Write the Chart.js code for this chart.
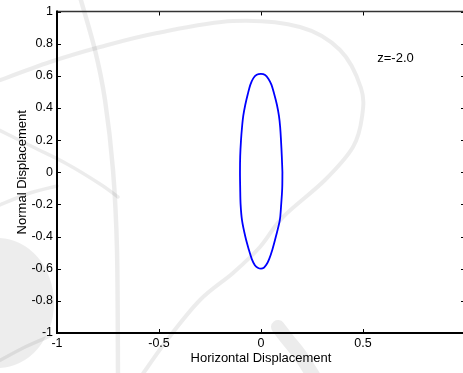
<!DOCTYPE html>
<html>
<head>
<meta charset="utf-8">
<script src="https://cdn.jsdelivr.net/npm/chart.js@4/dist/chart.umd.min.js"></script>
<style>
  html, body { margin: 0; padding: 0; background: #fff; overflow: hidden; }
  #wrap { width: 470px; height: 373px; position: relative; }
</style>
</head>
<body>
<div id="wrap"><canvas id="c"></canvas></div>
<script>
// Axis ticks and their labels
const xTicks = [-1, -0.5, 0, 0.5, 1];
const xTickLabels = ['-1', '-0.5', '0', '0.5', ''];
const yTicks = [-1, -0.8, -0.6, -0.4, -0.2, 0, 0.2, 0.4, 0.6, 0.8, 1];
const yTickLabels = ['-1', '-0.8', '-0.6', '-0.4', '-0.2', '0', '0.2', '0.4', '0.6', '0.8', '1'];

// Closed displacement orbit (horizontal, normal), traced clockwise starting on the right flank
const orbitX = [0.105, 0.104, 0.099, 0.092, 0.073, 0.056, 0.040, 0.026, 0.014, 0.000,
                -0.016, -0.030, -0.045, -0.060, -0.077, -0.093, -0.100, -0.102, -0.103, -0.102, -0.098, -0.093, -0.087, -0.077, -0.064, -0.052, -0.038, -0.021, 0.000,
                0.020, 0.036, 0.051, 0.064, 0.078, 0.088, 0.094, 0.098, 0.102, 0.105];
const orbitY = [0.000, -0.100, -0.200, -0.300, -0.400, -0.480, -0.540, -0.576, -0.594, -0.600,
                -0.594, -0.578, -0.540, -0.480, -0.400, -0.300, -0.200, -0.100, 0.000, 0.100, 0.200, 0.280, 0.350, 0.420, 0.490, 0.545, 0.584, 0.606, 0.612,
                0.605, 0.582, 0.545, 0.490, 0.420, 0.350, 0.280, 0.200, 0.100, 0.000];

// Text placed inside the axes (data coordinates)
const noteText = 'z=-2.0';
const noteX = 0.57;
const noteY = 0.71;

const FONT = "'Liberation Sans', Arial, Helvetica, sans-serif";

// Faint logo drawn behind the axes
function smoothPath(ctx, pts) {
  ctx.moveTo(pts[0][0], pts[0][1]);
  for (let i = 0; i < pts.length - 1; i++) {
    const p0 = pts[Math.max(i - 1, 0)], p1 = pts[i], p2 = pts[i + 1], p3 = pts[Math.min(i + 2, pts.length - 1)];
    ctx.bezierCurveTo(
      p1[0] + (p2[0] - p0[0]) / 6, p1[1] + (p2[1] - p0[1]) / 6,
      p2[0] - (p3[0] - p1[0]) / 6, p2[1] - (p3[1] - p1[1]) / 6,
      p2[0], p2[1]);
  }
}
const backdrop = {
  id: 'backdrop',
  beforeDraw(chart) {
    const ctx = chart.ctx;
    ctx.save();
    ctx.fillStyle = '#fff';
    ctx.fillRect(0, 0, chart.width, chart.height);
    ctx.lineCap = 'round';
    ctx.strokeStyle = 'rgba(0,0,0,0.075)';
    // large orbit
    ctx.lineWidth = 4;
    ctx.beginPath();
    smoothPath(ctx, [[-5, 82], [50, 62], [100, 47], [157, 33], [233, 21], [300, 27], [340, 50], [361, 88], [362, 117], [353, 147],
                     [325, 180], [283, 217], [260, 247], [233, 273], [200, 300], [167, 340], [140, 378]]);
    ctx.stroke();
    // near-vertical arc
    ctx.lineWidth = 4.5;
    ctx.beginPath();
    smoothPath(ctx, [[80, -3], [95, 50], [105, 100], [113, 170], [117, 250], [118, 378]]);
    ctx.stroke();
    // arcs entering from the left
    ctx.lineWidth = 3.5;
    ctx.beginPath();
    smoothPath(ctx, [[-3, 129], [33, 147], [67, 164], [100, 184], [118, 197]]);
    ctx.stroke();
    ctx.beginPath();
    smoothPath(ctx, [[-3, 206], [30, 193], [57, 186]]);
    ctx.stroke();
    ctx.beginPath();
    smoothPath(ctx, [[-3, 362], [25, 347], [50, 336]]);
    ctx.stroke();
    // thick stroke at the bottom
    ctx.lineWidth = 14;
    ctx.beginPath();
    smoothPath(ctx, [[278, 327], [288, 340], [300, 355], [316, 380]]);
    ctx.stroke();
    // filled disc at the lower left
    ctx.fillStyle = 'rgba(0,0,0,0.07)';
    ctx.beginPath();
    ctx.ellipse(-2, 303, 56, 65, 0, 0, Math.PI * 2);
    ctx.fill();
    ctx.restore();
  }
};

// Axes box with inward tick marks, and the in-axes note
const frame = {
  id: 'frame',
  afterDraw(chart) {
    const { ctx, chartArea: a, scales: { x, y } } = chart;
    ctx.save();
    ctx.strokeStyle = '#000';
    ctx.lineWidth = 1;
    ctx.beginPath();
    xTicks.forEach(v => {
      const px = Math.round(x.getPixelForValue(v)) + 0.5;
      ctx.moveTo(px, a.bottom); ctx.lineTo(px, a.bottom - 4);
      ctx.moveTo(px, a.top); ctx.lineTo(px, a.top + 4);
    });
    yTicks.forEach(v => {
      const py = Math.round(y.getPixelForValue(v)) + 0.5;
      ctx.moveTo(a.left, py); ctx.lineTo(a.left + 4, py);
      ctx.moveTo(a.right, py); ctx.lineTo(a.right - 4, py);
    });
    ctx.stroke();

    ctx.strokeStyle = '#333';
    ctx.lineWidth = 1.5;
    ctx.beginPath();
    ctx.moveTo(a.left, a.top); ctx.lineTo(a.right, a.top); ctx.lineTo(a.right, a.bottom);
    ctx.stroke();

    ctx.strokeStyle = '#000';
    ctx.lineWidth = 2;
    ctx.beginPath();
    ctx.moveTo(a.left, a.top - 1); ctx.lineTo(a.left, a.bottom); ctx.lineTo(a.right, a.bottom);
    ctx.stroke();

    ctx.fillStyle = '#000';
    ctx.font = '13px ' + FONT;
    ctx.textAlign = 'left';
    ctx.textBaseline = 'middle';
    ctx.fillText(noteText, x.getPixelForValue(noteX), y.getPixelForValue(noteY));
    ctx.restore();
  }
};

new Chart(document.getElementById('c'), {
  type: 'scatter',
  data: {
    datasets: [{
      data: orbitX.map((v, i) => ({ x: v, y: orbitY[i] })),
      showLine: true,
      borderColor: '#0000ff',
      borderWidth: 1.8,
      pointRadius: 0,
      tension: 0.3,
      fill: false
    }]
  },
  options: {
    responsive: true,
    maintainAspectRatio: false,
    devicePixelRatio: 1,
    animation: false,
    layout: { padding: { top: 11, right: 5, left: 0, bottom: 0 } },
    plugins: { legend: { display: false }, tooltip: { enabled: false } },
    scales: {
      x: {
        type: 'linear', min: -1, max: 1,
        afterBuildTicks: s => { s.ticks = xTicks.map(v => ({ value: v })); },
        afterFit: s => { s.height = 40; },
        grid: { display: false, drawTicks: false },
        border: { display: false },
        ticks: {
          autoSkip: false, maxRotation: 0, padding: 3, color: '#000',
          font: { family: FONT, size: 12.5 },
          callback: (v, i) => xTickLabels[i]
        },
        title: {
          display: true, text: 'Horizontal Displacement', color: '#000',
          font: { family: FONT, size: 13 }, padding: { top: 0, bottom: 7 }
        }
      },
      y: {
        type: 'linear', min: -1, max: 1,
        afterBuildTicks: s => { s.ticks = yTicks.map(v => ({ value: v })); },
        afterFit: s => { s.width = 57; },
        grid: { display: false, drawTicks: false },
        border: { display: false },
        ticks: {
          autoSkip: false, padding: 4, color: '#000',
          font: { family: FONT, size: 12.5 },
          callback: (v, i) => yTickLabels[i]
        },
        title: {
          display: true, text: 'Normal Displacement', color: '#000',
          font: { family: FONT, size: 13 }, padding: { top: 15, bottom: 0 }
        }
      }
    }
  },
  plugins: [backdrop, frame]
});
</script>
</body>
</html>
